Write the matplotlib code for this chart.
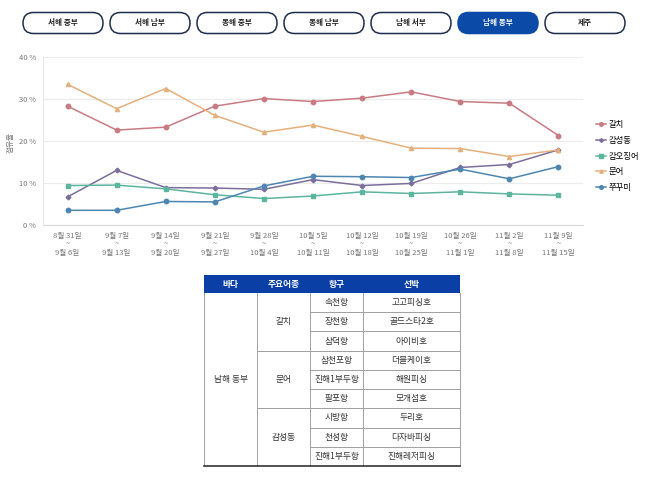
import matplotlib
matplotlib.use('Agg')
import matplotlib.pyplot as plt
from matplotlib.patches import FancyBboxPatch, Rectangle

plt.rcParams['font.family'] = ['Noto Sans CJK KR', 'DejaVu Sans']

# ---- data ----
tabs = ['서해 중부', '서해 남부', '동해 중부', '동해 남부', '남해 서부', '남해 동부', '제주']
active_tab = '남해 동부'

week_start = ['8월 31일', '9월 7일', '9월 14일', '9월 21일', '9월 28일', '10월 5일',
              '10월 12일', '10월 19일', '10월 26일', '11월 2일', '11월 9일']
week_end = ['9월 6일', '9월 13일', '9월 20일', '9월 27일', '10월 4일', '10월 11일',
            '10월 18일', '10월 25일', '11월 1일', '11월 8일', '11월 15일']

hairtail = [28.3, 22.6, 23.3, 28.3, 30.1, 29.4, 30.2, 31.7, 29.4, 29.0, 21.3]     # 갈치
seabream = [6.7, 13.0, 8.9, 8.8, 8.5, 10.8, 9.4, 9.9, 13.7, 14.4, 17.9]          # 감성동
cuttlefish = [9.4, 9.5, 8.6, 7.2, 6.3, 6.9, 7.9, 7.5, 7.9, 7.4, 7.1]             # 갑오징어
octopus = [33.5, 27.7, 32.5, 26.1, 22.1, 23.8, 21.1, 18.3, 18.2, 16.3, 17.9]     # 문어
webfoot = [3.5, 3.5, 5.6, 5.5, 9.3, 11.6, 11.5, 11.3, 13.3, 11.0, 13.9]          # 쭈꾸미

series_names = ['갈치', '감성동', '갑오징어', '문어', '쭈꾸미']
series_vals = [hairtail, seabream, cuttlefish, octopus, webfoot]
colors = ['#c97b84', '#7b6e9c', '#5cb59e', '#e6b07c', '#4e86b2']
markers = ['o', 'D', 's', '^', 'o']
msizes = [3.2, 2.4, 3.2, 3.0, 3.2]

table_header = ['바다', '주요어종', '항구', '선박']
table_sea = '남해 동부'
table_species = ['갈치', '문어', '감성동']
table_ports = ['속천항', '장천항', '삼덕항', '삼천포항', '진해1부두항', '팔포항',
               '시방항', '천성항', '진해1부두항']
table_boats = ['고고피싱호', '골드스타2호', '아이비호', '더블케이호', '해원피싱', '모개섬호',
               '두리호', '다자바피싱', '진해레저피싱']

W, H = 658, 483
fig = plt.figure(figsize=(W / 100, H / 100), dpi=100)

# ---- line chart ----
ax = fig.add_axes([43 / W, 1 - 225 / H, 540 / W, 168 / H])
x = list(range(len(week_start)))
for name, vals, c, m, ms in zip(series_names, series_vals, colors, markers, msizes):
    ax.plot(x, vals, color=c, lw=1.1, marker=m, ms=ms, label=name)
ax.set_xlim(-0.5, len(x) - 0.5)
ax.set_ylim(0, 40)
ax.set_yticks([0, 10, 20, 30, 40])
ax.set_yticklabels([f'{v} %' for v in [0, 10, 20, 30, 40]])
ax.set_xticks(x)
ax.set_xticklabels([f'{a}\n~\n{b}' for a, b in zip(week_start, week_end)], linespacing=1.05)
ax.tick_params(length=0, labelsize=5.5, labelcolor='#777777', pad=5)
ax.grid(axis='y', color='#ececec', lw=0.8)
ax.set_axisbelow(True)
for s in ['top', 'right']:
    ax.spines[s].set_visible(False)
ax.spines['left'].set_color('#e6e6e6')
ax.spines['bottom'].set_color('#d9d9d9')
ax.set_ylabel('점유율', fontsize=5.5, color='#777777')
ax.yaxis.set_label_coords(-0.052, 0.49)
ax.legend(loc='center left', bbox_to_anchor=(1.01, 0.41), frameon=False, fontsize=6,
          handlelength=1.2, handletextpad=0.3, labelspacing=0.8, markerscale=0.8)

# ---- overlay for tabs and table ----
ov = fig.add_axes([0, 0, 1, 1])
ov.set_xlim(0, W)
ov.set_ylim(H, 0)
ov.axis('off')

for i, t in enumerate(tabs):
    cx = 63 + 87 * i
    on = t == active_tab
    box = FancyBboxPatch((cx - 29.5, 22.99), 59, 0.02, boxstyle='round,pad=10.5,rounding_size=10.5',
                         fc='#0b4aa6' if on else 'white',
                         ec='#0b4aa6' if on else '#1f2d4d', lw=1.1)
    ov.add_patch(box)
    ov.text(cx, 23, t, ha='center', va='center', fontsize=5.5, fontweight='bold',
            color='white' if on else '#222222')

# table geometry
tx = [204, 257, 310, 363, 460]
ty0, ty1 = 275, 293
rh = (466 - 293) / len(table_ports)
ov.add_patch(Rectangle((tx[0], ty0), tx[-1] - tx[0], ty1 - ty0, fc='#0a3fa6', ec='none'))
for i, h in enumerate(table_header):
    ov.text((tx[i] + tx[i + 1]) / 2, (ty0 + ty1) / 2, h, ha='center', va='center',
            fontsize=6.3, color='white', fontweight='bold')
bottom = ty1 + rh * len(table_ports)
lc = '#a0a0a0'
for xv in tx:
    ov.plot([xv, xv], [ty1, bottom], color=lc, lw=0.7)
ov.plot([tx[0], tx[-1]], [bottom, bottom], color='#333333', lw=1.2)
ov.text((tx[0] + tx[1]) / 2, (ty1 + bottom) / 2, table_sea, ha='center', va='center',
        fontsize=6.3, color='#333333')
per = len(table_ports) // len(table_species)
for g, sp in enumerate(table_species):
    y0 = ty1 + rh * per * g
    ov.text((tx[1] + tx[2]) / 2, y0 + rh * per / 2, sp, ha='center', va='center',
            fontsize=6.3, color='#333333')
    if g > 0:
        ov.plot([tx[1], tx[-1]], [y0, y0], color=lc, lw=0.7)
for r, (p, b) in enumerate(zip(table_ports, table_boats)):
    yc = ty1 + rh * (r + 0.5)
    if r % per:
        ov.plot([tx[2], tx[-1]], [ty1 + rh * r] * 2, color=lc, lw=0.7)
    ov.text((tx[2] + tx[3]) / 2, yc, p, ha='center', va='center', fontsize=6.3, color='#333333')
    ov.text((tx[3] + tx[4]) / 2, yc, b, ha='center', va='center', fontsize=6.3, color='#333333')

fig.savefig('out.png', dpi=100)
